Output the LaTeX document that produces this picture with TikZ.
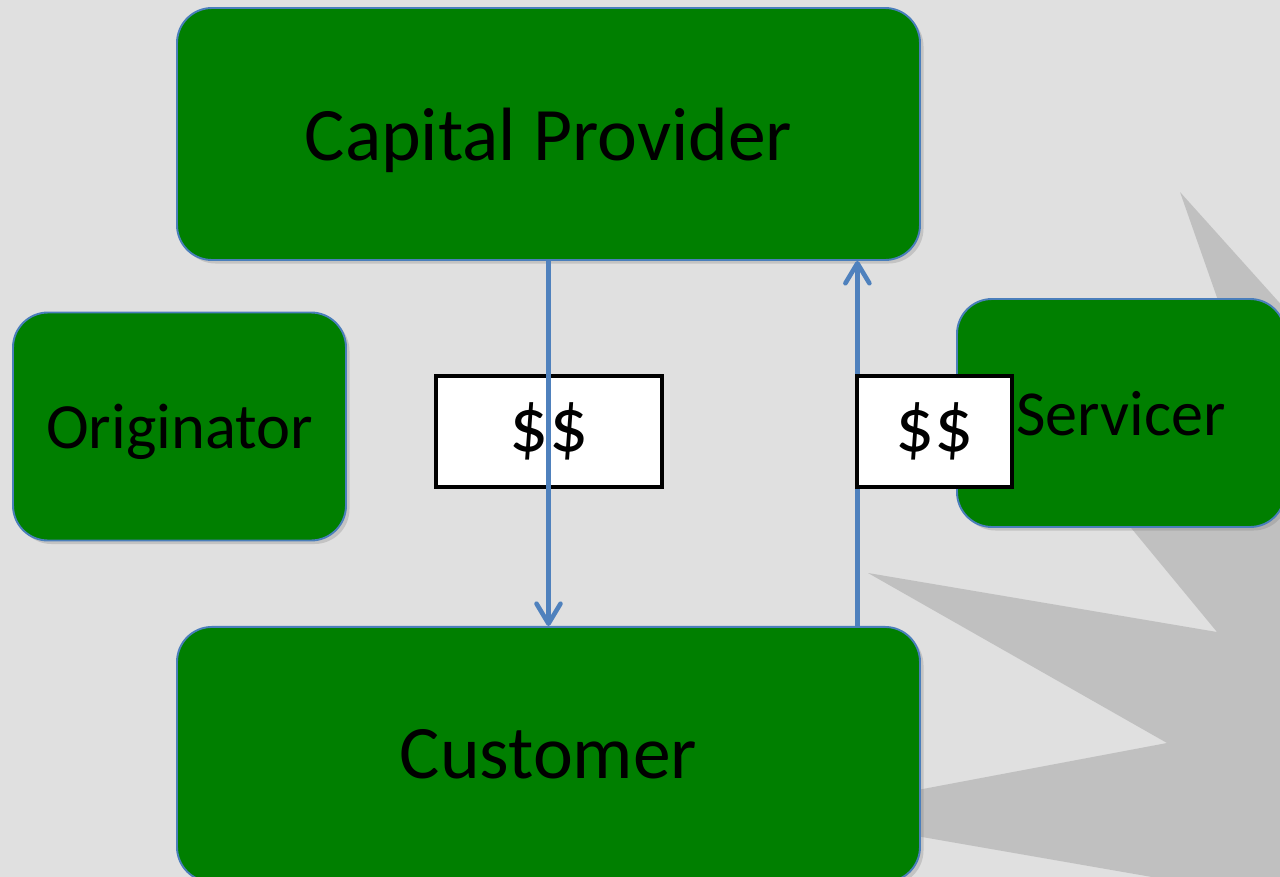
\documentclass[tikz,border=0pt]{standalone}
\usepackage{fontspec}
\setmainfont{Carlito}
\usetikzlibrary{positioning,shadows,arrows.meta}
\definecolor{boxgreen}{HTML}{007F00}
\definecolor{edgeblue}{HTML}{4A7EBB}
\definecolor{flowblue}{HTML}{4F81BD}
\definecolor{paper}{HTML}{E0E0E0}
\definecolor{burst}{HTML}{C0C0C0}
\pgfdeclarelayer{front}
\pgfsetlayers{main,front}

\begin{document}
\begin{tikzpicture}[x=0.2mm, y=-0.2mm,
    party/.style = {rectangle, rounded corners=7mm, draw=edgeblue, line width=1.1pt, fill=boxgreen, inner sep=0pt,
                    text depth=0pt, drop shadow={shadow xshift=0.7mm, shadow yshift=-0.7mm, opacity=0.3}},
    cash/.style = {rectangle, draw=black, line width=2.4pt, fill=white, inner sep=0pt,
                   minimum height=22.2mm, font=\fontsize{44}{52}\selectfont},
    flow/.style = {draw=flowblue, line width=2.6pt, -{Straight Barb[length=4mm, width=4.8mm, round]}}]
    \useasboundingbox (0,0) rectangle (1280,877);
    \clip (0,0) rectangle (1280,877);
    \fill[paper] (0,0) rectangle (1280,877);
    % starburst behind the boxes
    \fill[burst] (1180,192) -- (1267,440) -- (1042,420) -- (1217,632) -- (868,573) -- (1167,743)
        -- (790,814) -- (1330,908) -- (1330,359) -- cycle;
    \node[party, minimum width=66.6mm, minimum height=45.6mm, font=\fontsize{36.7}{44}\selectfont] (orig) at (179.5,426.5) {Originator};
    \node[party, minimum width=65.6mm, minimum height=45.6mm, font=\fontsize{36.5}{44}\selectfont] (serv) at (1121,413) {Servicer};
    \node[party, minimum width=148.6mm, minimum height=50.4mm, font=\fontsize{43}{51}\selectfont] (cp) at (548.5,134) {Capital Provider};
    \node[party, minimum width=148.6mm, minimum height=51mm, font=\fontsize{43}{51}\selectfont] (cust) [below=73mm of cp] {Customer};
    \node[cash, minimum width=45.2mm] (cash1) at (549,431.5) {\$\$};
    \begin{pgfonlayer}{front}
        \node[cash, minimum width=31mm] (cash2) at (934.5,431.5) {\$\$};
    \end{pgfonlayer}
    \draw[flow] (cp) -- (cust);
    \draw[flow] ([xshift=0.5mm]cust.north -| cash2.west) -- ([xshift=0.5mm]cp.south -| cash2.west);
\end{tikzpicture}
\end{document}
